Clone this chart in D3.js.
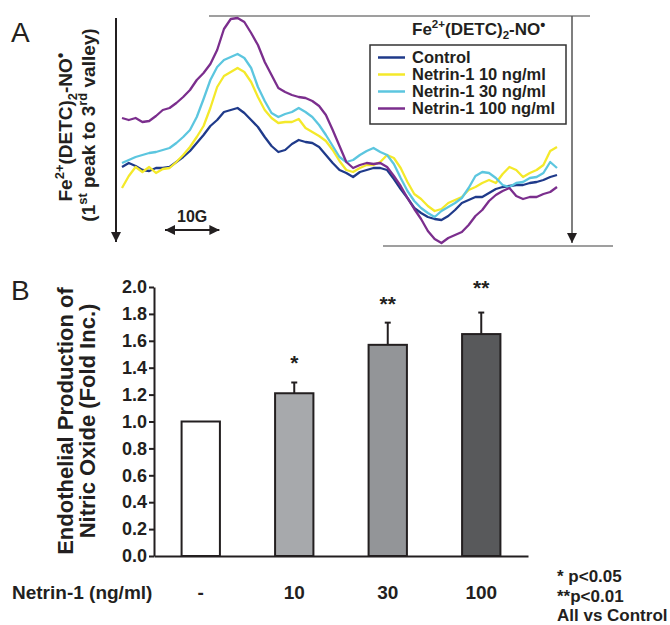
<!DOCTYPE html>
<html lang="en">
<head>
<meta charset="UTF-8">
<title>Netrin-1 and endothelial NO production</title>
<script src="https://d3js.org/d3.v7.min.js"></script>
<style>
  body { margin: 0; background: #fff; }
  svg { display: block; font-family: "Liberation Sans", Arial, sans-serif; }
  text { fill: #231f20; }
  .b { font-weight: bold; }
  .axisB path, .axisB line { stroke: #231f20; stroke-width: 2; }
  .axisB text { font-family: "Liberation Sans", Arial, sans-serif; font-weight: bold; fill: #231f20; }
</style>
</head>
<body>
<svg width="670" height="625"></svg>
<script>
// ---------- Panel A: EPR spectra (field offset in G, signal in a.u.) ----------
const field = [0,1.25,2.5,3.75,5,6.25,7.5,8.75,10,11.25,12.5,13.75,15,16.25,17.5,18.75,
  20,21.25,22.5,23.75,25,26.25,27.5,28.75,30,31.25,32.5,33.75,35,36.25,37.5,38.75,
  40,41.25,42.5,43.75,45,46.25,47.5,48.75,50,51.25,52.5,53.75,55,56.25,57.5,58.75,
  60,61.25,62.5,63.75,65,66.25,67.5,68.75,70,71.25,72.5,73.75,75,76.25,77.5,78.75,80];

const control = [83,87,84,80,79,82,82,83,88,93,99,107,115,124,130,138,140,142,137,130,123,113,104,98,
  100,106,110,108,107,103,95,87,80,77,73,78,80,82,82,80,71,61,52,42,37,33,31,30,34,40,47,50,53,53,
  57,61,63,64,65,65,67,68,70,73,75];
const netrin10 = [62,74,83,78,83,77,81,82,88,95,103,113,124,142,163,174,178,182,178,168,153,140,132,127,
  128,128,131,122,118,114,109,100,89,80,78,82,85,85,88,95,92,82,68,56,51,44,39,41,47,50,53,60,63,67,
  70,67,76,83,80,73,77,80,85,99,103];
const netrin30 = [87,90,93,95,97,98,100,102,107,113,120,133,151,170,183,190,193,196,192,182,163,149,137,133,
  136,138,142,138,133,125,115,104,93,88,90,95,99,102,98,95,86,72,59,49,42,37,33,39,43,47,52,62,74,78,
  77,72,65,63,67,68,72,73,77,88,82];
const netrin100 = [132,130,132,128,129,134,140,142,147,153,160,170,177,186,200,221,231,232,228,217,205,188,175,162,
  158,155,153,152,149,144,135,120,104,88,82,85,87,86,87,83,74,64,52,41,31,19,11,7,12,15,18,25,34,40,
  49,55,59,62,54,51,53,53,56,58,63];

const seriesNames = ["Control", "Netrin-1 10 ng/ml", "Netrin-1 30 ng/ml", "Netrin-1 100 ng/ml"];
const seriesColors = ["#1f3a8a", "#f4e92a", "#5cc6df", "#7b2e8d"];
const seriesValues = [control, netrin10, netrin30, netrin100];
const scaleBarG = 10;

// ---------- Panel B: fold increase in NO ----------
const groups = ["-", "10", "30", "100"];
const means = [1.0, 1.21, 1.57, 1.65];
const sems = [0, 0.08, 0.165, 0.16];
const stars = ["", "*", "**", "**"];
const barFills = ["#ffffff", "#a7a9ac", "#939598", "#58595b"];
const yTicks = [0, 0.2, 0.4, 0.6, 0.8, 1.0, 1.2, 1.4, 1.6, 1.8, 2.0];
const notes = ["* p<0.05", "**p<0.01", "All vs Control"];

const svg = d3.select("svg");

// arrow markers
const defs = svg.append("defs");
defs.append("marker")
    .attr("id", "arr")
    .attr("viewBox", "0 0 10 10")
    .attr("refX", 10).attr("refY", 5)
    .attr("markerWidth", 10).attr("markerHeight", 11)
    .attr("markerUnits", "userSpaceOnUse")
    .attr("orient", "auto-start-reverse")
  .append("path")
    .attr("d", "M0,0L10,5L0,10Z")
    .attr("fill", "#231f20");

// rich text helper: parts = [[text, "sup"|"sub"|"dot"|null], ...]
function richText(sel, parts, size) {
  let shift = 0;
  parts.forEach(([t, kind]) => {
    let target = kind === "sup" ? -0.42 * size : kind === "sub" ? 0.25 * size
               : kind === "dot" ? -0.3 * size : 0;
    let fs = kind === "sup" || kind === "sub" ? size * 0.68 : kind === "dot" ? size * 0.85 : size;
    sel.append("tspan")
       .attr("dy", target - shift)
       .attr("font-size", fs)
       .text(t);
    shift = target;
  });
}
const feLabel = [["Fe", null], ["2+", "sup"], ["(DETC)", null], ["2", "sub"], ["-NO", null], ["\u2022", "dot"]];

// ================= Panel A =================
const xA = d3.scaleLinear().domain([0, 80]).range([122, 557]);
const yA = d3.scaleLinear().domain([0, 250]).range([250, 0]);

svg.append("text").attr("x", 11).attr("y", 42)
   .attr("font-size", 28).text("A");

// y label (rotated)
const ya1 = svg.append("text").attr("class", "b")
   .attr("transform", "translate(72,127) rotate(-90)")
   .attr("text-anchor", "middle");
richText(ya1, feLabel, 19);
const ya2 = svg.append("text").attr("class", "b")
   .attr("transform", "translate(95,125) rotate(-90)")
   .attr("text-anchor", "middle");
richText(ya2, [["(1", null], ["st", "sup"], [" peak to 3", null], ["rd", "sup"], [" valley)", null]], 19);

// left arrow
svg.append("line")
   .attr("x1", 116).attr("x2", 116).attr("y1", 18).attr("y2", 242)
   .attr("stroke", "#231f20").attr("stroke-width", 2)
   .attr("marker-end", "url(#arr)");

// peak / valley reference lines from the 100 ng/ml trace
const peakY = yA(d3.max(netrin100)) - 2;
const valleyY = yA(d3.min(netrin100)) + 3;
svg.append("line").attr("x1", 209).attr("x2", 590).attr("y1", peakY).attr("y2", peakY)
   .attr("stroke", "#7f7f7f").attr("stroke-width", 1.5);
svg.append("line").attr("x1", 383).attr("x2", 613).attr("y1", valleyY).attr("y2", valleyY)
   .attr("stroke", "#7f7f7f").attr("stroke-width", 1.5);
svg.append("line").attr("x1", 572).attr("x2", 572).attr("y1", peakY).attr("y2", valleyY - 3)
   .attr("stroke", "#555").attr("stroke-width", 1.5)
   .attr("marker-end", "url(#arr)");

// spectra
const lineA = d3.line().x((d, i) => xA(field[i])).y(d => yA(d));
svg.append("g").selectAll("path")
   .data(seriesValues)
   .join("path")
   .attr("d", lineA)
   .attr("fill", "none")
   .attr("stroke", (d, i) => seriesColors[i])
   .attr("stroke-width", 2.3)
   .attr("stroke-linejoin", "round");

// 10 G scale bar
const sbX0 = 165;
const sbX1 = sbX0 + (xA(scaleBarG) - xA(0));
svg.append("line").attr("x1", sbX0).attr("x2", sbX1).attr("y1", 230).attr("y2", 230)
   .attr("stroke", "#231f20").attr("stroke-width", 2)
   .attr("marker-start", "url(#arr)").attr("marker-end", "url(#arr)");
svg.append("text").attr("class", "b").attr("x", (sbX0 + sbX1) / 2).attr("y", 222)
   .attr("text-anchor", "middle").attr("font-size", 16).text(scaleBarG + "G");

// legend
const lt = svg.append("text").attr("class", "b").attr("x", 412).attr("y", 35);
richText(lt, feLabel, 17);
svg.append("rect").attr("x", 370).attr("y", 45).attr("width", 196).attr("height", 79)
   .attr("fill", "#fff").attr("stroke", "#333").attr("stroke-width", 1.5);
const leg = svg.append("g").selectAll("g")
   .data(seriesNames)
   .join("g")
   .attr("transform", (d, i) => `translate(0,${63 + i * 17})`);
leg.append("line").attr("x1", 378).attr("x2", 405).attr("y1", -5.5).attr("y2", -5.5)
   .attr("stroke", (d, i) => seriesColors[i]).attr("stroke-width", 2.5);
leg.append("text").attr("class", "b").attr("x", 412).attr("font-size", 16.5).text(d => d);

// ================= Panel B =================
const xB = d3.scaleBand().domain(groups).range([154, 528]).paddingInner(0.59).paddingOuter(0.295);
const yB = d3.scaleLinear().domain([0, 2]).range([556, 287]);

svg.append("text").attr("x", 11).attr("y", 300)
   .attr("font-size", 28).text("B");

svg.append("g").attr("class", "axisB")
   .attr("transform", "translate(154,0)")
   .call(d3.axisLeft(yB).tickValues(yTicks).tickFormat(d3.format(".1f"))
          .tickSize(5).tickSizeOuter(0).tickPadding(2))
   .selectAll("text").attr("font-size", 18);

svg.append("g").attr("class", "axisB")
   .attr("transform", "translate(0,556)")
   .call(d3.axisBottom(xB).tickSize(0).tickSizeOuter(0).tickPadding(30))
   .selectAll("text").attr("font-size", 19);

const yt = svg.append("g").attr("class", "b").attr("font-size", 22).attr("text-anchor", "middle");
yt.append("text").attr("transform", "translate(73,421) rotate(-90)").text("Endothelial Production of");
yt.append("text").attr("transform", "translate(95,421) rotate(-90)").text("Nitric Oxide (Fold Inc.)");

svg.append("text").attr("class", "b").attr("x", 12).attr("y", 599)
   .attr("font-size", 19).text("Netrin-1 (ng/ml)");

// error bars (drawn under bars)
const eb = svg.append("g").attr("stroke", "#231f20").attr("stroke-width", 2);
groups.forEach((g, i) => {
  if (!sems[i]) return;
  const cx = xB(g) + xB.bandwidth() / 2;
  eb.append("line").attr("x1", cx).attr("x2", cx)
    .attr("y1", yB(means[i])).attr("y2", yB(means[i] + sems[i]));
  eb.append("line").attr("x1", cx - 3).attr("x2", cx + 3)
    .attr("y1", yB(means[i] + sems[i])).attr("y2", yB(means[i] + sems[i]));
});

svg.append("g").selectAll("rect")
   .data(means)
   .join("rect")
   .attr("x", (d, i) => xB(groups[i]))
   .attr("width", xB.bandwidth())
   .attr("y", d => yB(d))
   .attr("height", d => yB(0) - yB(d))
   .attr("fill", (d, i) => barFills[i])
   .attr("stroke", "#231f20").attr("stroke-width", 2);

svg.append("g").selectAll("text")
   .data(stars)
   .join("text")
   .attr("class", "b")
   .attr("x", (d, i) => xB(groups[i]) + xB.bandwidth() / 2)
   .attr("y", (d, i) => yB(means[i] + sems[i]) - (i === 3 ? 18 : 12))
   .attr("text-anchor", "middle").attr("font-size", 21)
   .text(d => d);

svg.append("g").selectAll("text")
   .data(notes)
   .join("text")
   .attr("class", "b")
   .attr("x", 557).attr("y", (d, i) => 582 + i * 19.5)
   .attr("font-size", 17)
   .text(d => d);
</script>
</body>
</html>
